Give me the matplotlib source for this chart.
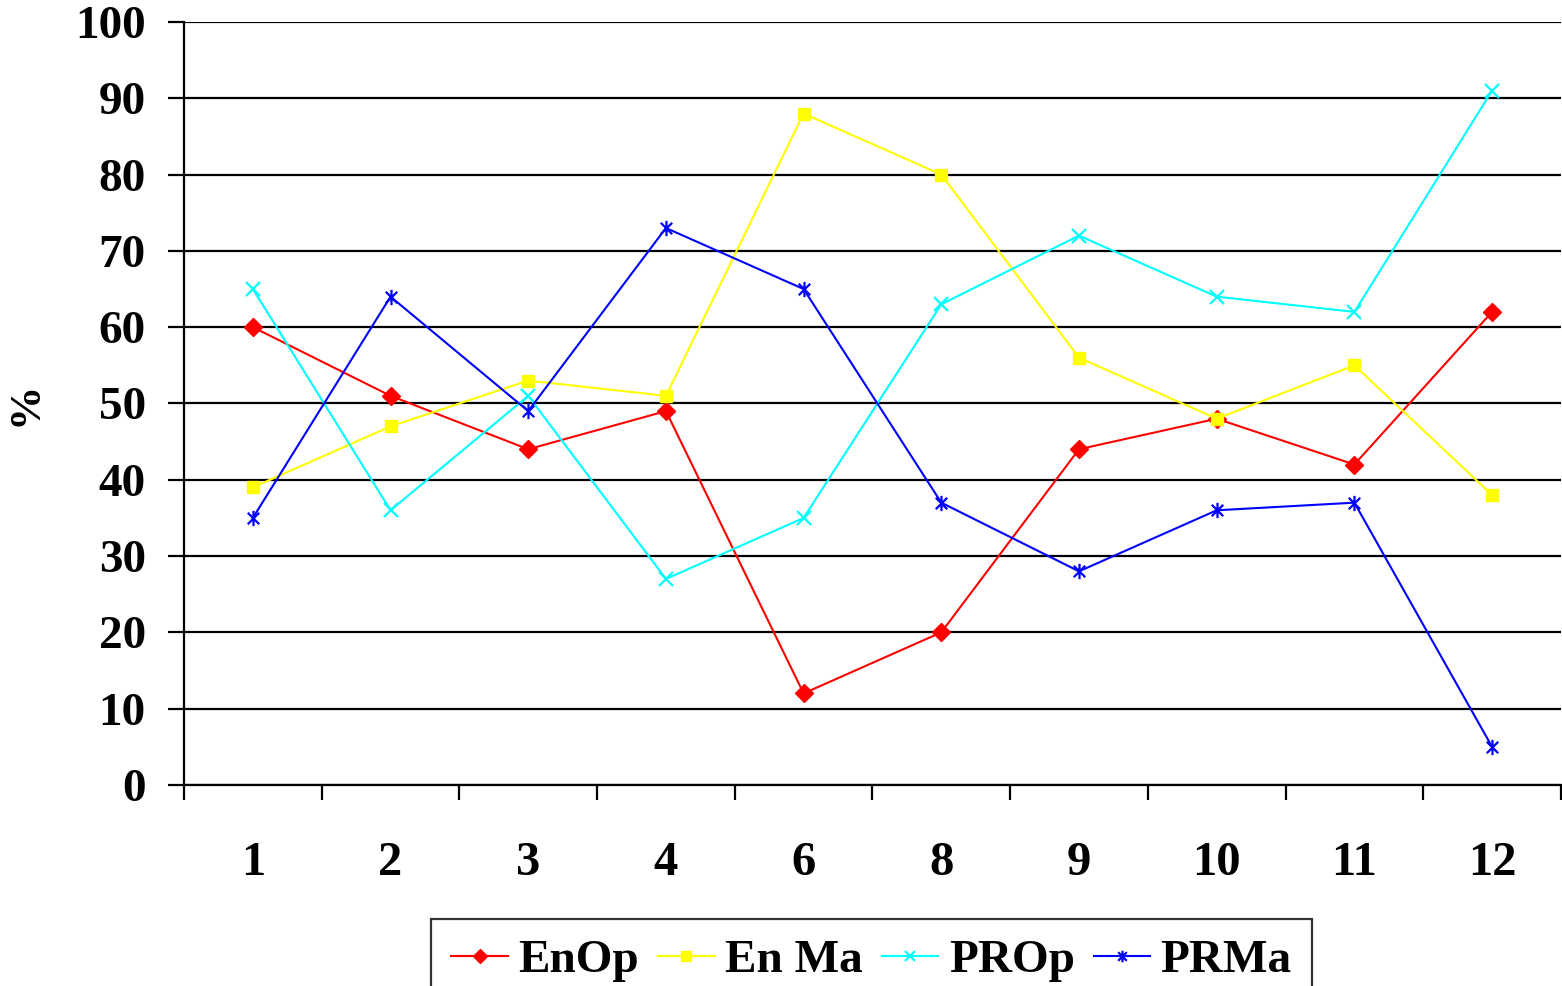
import matplotlib
matplotlib.use("Agg")
import matplotlib.pyplot as plt
from matplotlib.path import Path
from matplotlib.ticker import FixedLocator, NullFormatter

categories = ["1", "2", "3", "4", "6", "8", "9", "10", "11", "12"]
enop = [60, 51, 44, 49, 12, 20, 44, 48, 42, 62]
enma = [39, 47, 53, 51, 88, 80, 56, 48, 55, 38]
prop = [65, 36, 51, 27, 35, 63, 72, 64, 62, 91]
prma = [35, 64, 49, 73, 65, 37, 28, 36, 37, 5]
yticks = list(range(0, 101, 10))

plt.rcParams['font.family'] = ['Liberation Serif', 'DejaVu Serif']
plt.rcParams['font.weight'] = 'bold'

star = Path([(0, -1), (0, 1), (-0.75, -0.75), (0.75, 0.75), (-0.75, 0.75), (0.75, -0.75)],
            [Path.MOVETO, Path.LINETO, Path.MOVETO, Path.LINETO, Path.MOVETO, Path.LINETO])

fig = plt.figure(figsize=(15.62, 9.86), dpi=100)
ax = fig.add_axes([0.1178, 0.2039, 0.8815, 0.7738])

x = list(range(len(categories)))
ax.plot(x, enop, color='#ff0000', lw=1.5, marker='D', ms=9, mec='#ff0000', mfc='#ff0000', label='EnOp', zorder=3)
ax.plot(x, enma, color='#ffff00', lw=1.5, marker='s', ms=9, mec='#ffff00', mfc='#ffff00', label='En Ma', zorder=3)
ax.plot(x, prop, color='#00ffff', lw=1.5, marker='x', ms=10, mew=1.6, label='PROp', zorder=3)
ax.plot(x, prma, color='#0000ff', lw=1.5, marker=star, ms=11, mew=1.6, label='PRMa', zorder=3)

ax.set_xlim(-0.5, len(categories) - 0.5)
ax.set_ylim(0, 100)
ax.set_yticks(yticks)
ax.set_yticklabels([str(v) for v in yticks], fontsize=34, fontweight='bold')
ax.yaxis.grid(True, color='black', lw=1.6)
ax.set_axisbelow(True)

ax.set_xticks(x)
ax.set_xticklabels(categories, fontsize=35, fontweight='bold')
ax.tick_params(axis='x', which='major', length=0, pad=40)
ax.xaxis.set_minor_locator(FixedLocator([i - 0.5 for i in range(len(categories) + 1)]))
ax.xaxis.set_minor_formatter(NullFormatter())
ax.tick_params(axis='x', which='minor', length=11, width=1.6, color='black')
ax.tick_params(axis='y', length=11.5, width=1.6, pad=16)

for s in ['top', 'right']:
    ax.spines[s].set_visible(False)
for s in ['left', 'bottom']:
    ax.spines[s].set_linewidth(1.6)

ax.set_ylabel('%', fontsize=32, fontweight='bold')
ax.yaxis.set_label_coords(-0.1005, 0.5)

leg = fig.legend(loc='upper center', bbox_to_anchor=(0.558, 0.068), ncol=4, fontsize=34,
                 frameon=True, fancybox=False, edgecolor='black', markerscale=0.75,
                 handlelength=1.2, handletextpad=0.22, columnspacing=0.4, borderpad=0.43,
                 borderaxespad=0)
leg.get_frame().set_linewidth(1.6)
for t in leg.get_texts():
    t.set_fontweight('bold')

fig.savefig('out.png', dpi=100)
